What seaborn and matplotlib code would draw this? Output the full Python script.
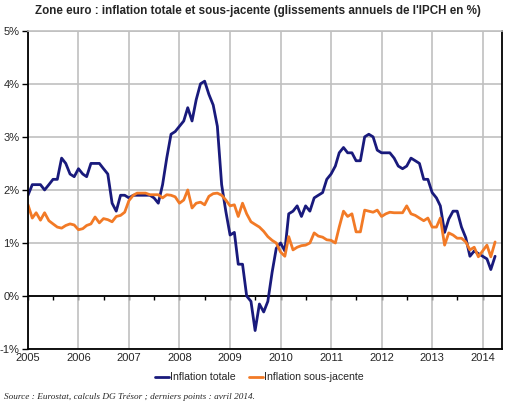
import pandas as pd
import matplotlib
matplotlib.use("Agg")
import matplotlib.pyplot as plt
import matplotlib.dates as mdates
import seaborn as sns

# glissements annuels de l'IPCH (%), mensuel, janv. 2005 -> avril 2014
totale = [
    1.9, 2.1, 2.1, 2.1, 2.0, 2.1, 2.2, 2.2, 2.6, 2.5, 2.3, 2.25,   # 2005
    2.4, 2.3, 2.25, 2.5, 2.5, 2.5, 2.4, 2.3, 1.75, 1.6, 1.9, 1.9,  # 2006
    1.85, 1.9, 1.9, 1.9, 1.9, 1.9, 1.85, 1.75, 2.1, 2.6, 3.05, 3.1,  # 2007
    3.2, 3.3, 3.55, 3.3, 3.7, 4.0, 4.05, 3.8, 3.6, 3.2, 2.1, 1.6,   # 2008
    1.15, 1.2, 0.6, 0.6, 0.0, -0.1, -0.65, -0.15, -0.3, -0.1, 0.45, 0.9,  # 2009
    1.0, 0.85, 1.55, 1.6, 1.7, 1.5, 1.7, 1.6, 1.85, 1.9, 1.95, 2.2,  # 2010
    2.3, 2.45, 2.7, 2.8, 2.7, 2.7, 2.55, 2.55, 3.0, 3.05, 3.0, 2.75,  # 2011
    2.7, 2.7, 2.7, 2.6, 2.45, 2.4, 2.45, 2.6, 2.55, 2.5, 2.2, 2.2,  # 2012
    1.95, 1.85, 1.7, 1.2, 1.45, 1.6, 1.6, 1.3, 1.1, 0.75, 0.85, 0.8,  # 2013
    0.75, 0.7, 0.5, 0.75,                                            # 2014
]
sous_jacente = [
    1.72, 1.47, 1.57, 1.43, 1.57, 1.42, 1.36, 1.3, 1.28, 1.33, 1.36, 1.34,  # 2005
    1.25, 1.27, 1.33, 1.36, 1.49, 1.38, 1.46, 1.44, 1.4, 1.5, 1.52, 1.58,  # 2006
    1.8, 1.9, 1.94, 1.94, 1.94, 1.91, 1.91, 1.91, 1.85, 1.91, 1.9, 1.87,  # 2007
    1.75, 1.81, 2.0, 1.66, 1.75, 1.77, 1.72, 1.88, 1.93, 1.94, 1.9, 1.81,  # 2008
    1.7, 1.72, 1.5, 1.75, 1.55, 1.4, 1.35, 1.3, 1.22, 1.12, 1.05, 1.0,  # 2009
    0.83, 0.75, 1.12, 0.87, 0.92, 0.95, 0.96, 1.0, 1.19, 1.13, 1.11, 1.06,  # 2010
    1.05, 1.0, 1.3, 1.6, 1.5, 1.55, 1.21, 1.21, 1.62, 1.6, 1.58, 1.62,  # 2011
    1.5, 1.55, 1.58, 1.57, 1.57, 1.57, 1.7, 1.55, 1.52, 1.47, 1.42, 1.47,  # 2012
    1.3, 1.3, 1.47, 0.96, 1.19, 1.15, 1.09, 1.09, 1.02, 0.87, 0.92, 0.74,  # 2013
    0.85, 0.96, 0.74, 1.02,                                          # 2014
]
series_names = ["Inflation totale", "Inflation sous-jacente"]
series_colors = ["#191a7c", "#f27a26"]
y_ticks = [-1, 0, 1, 2, 3, 4, 5]
title = "Zone euro : inflation totale et sous-jacente (glissements annuels de l'IPCH en %)"
source = "Source : Eurostat, calculs DG Trésor ; derniers points : avril 2014."

dates = pd.date_range("2005-01-01", periods=len(totale), freq="MS")
df = pd.DataFrame({"date": dates, series_names[0]: totale, series_names[1]: sous_jacente})
long_df = df.melt(id_vars="date", var_name="serie", value_name="valeur")

sns.set_theme(style="white")
plt.rcParams["font.family"] = ["Liberation Sans", "DejaVu Sans"]

fig = plt.figure(figsize=(5.09, 4.05), dpi=100)
ax = fig.add_axes([0.055, 0.138, 0.931, 0.786])

sns.lineplot(data=long_df, x="date", y="valeur", hue="serie", hue_order=series_names,
             palette=series_colors, linewidth=2.0, ax=ax)

ax.set_ylim(-1, 5)
ax.set_xlim(pd.Timestamp("2005-01-01"), pd.Timestamp("2014-05-20"))
ax.set_yticks(y_ticks)
ax.set_yticklabels([f"{v}%" for v in y_ticks], fontsize=8)
ax.xaxis.set_major_locator(mdates.YearLocator())
ax.xaxis.set_major_formatter(mdates.DateFormatter("%Y"))
ax.tick_params(axis="x", labelsize=8, length=0, pad=3)
ax.tick_params(axis="y", length=4, width=1, color="black", direction="out", pad=2, left=True)
ax.set_xlabel("")
ax.set_ylabel("")

ax.grid(True, color="#c0c0c0", linewidth=1.2)
ax.set_axisbelow(True)
for side in ["left", "right", "bottom"]:
    ax.spines[side].set_color("black")
    ax.spines[side].set_linewidth(1.3)
ax.spines["top"].set_color("#c0c0c0")
ax.spines["top"].set_linewidth(1.2)
ax.axhline(0, color="black", linewidth=1.3, zorder=1.5)

# petites graduations sur l'axe du zéro
zero_axis = ax.secondary_xaxis(1 / 6)
zero_axis.xaxis.set_major_locator(mdates.MonthLocator(bymonth=[1, 7]))
zero_axis.xaxis.set_ticks_position("bottom")
zero_axis.tick_params(axis="x", direction="out", length=3, width=1, color="black",
                      labelbottom=False, labeltop=False)
for s in zero_axis.spines.values():
    s.set_visible(False)

sns.move_legend(ax, "center", bbox_to_anchor=(0.51, 0.068), bbox_transform=fig.transFigure,
                ncol=2, frameon=False, title=None, fontsize=7.6, handlelength=1.3,
                handletextpad=0.1, columnspacing=1.3)

# titre : pas de police étroite installée, on ajuste la taille à la largeur de l'original
t = fig.text(0.507, 0.972, title, ha="center", va="center", fontsize=10, fontweight="bold",
             family=["Liberation Sans", "DejaVu Sans"])
renderer = fig.canvas.get_renderer()
w = t.get_window_extent(renderer).width
t.set_fontsize(10 * 443 / w)

fig.text(0.008, 0.02, source, ha="left", va="center", fontsize=6.7, style="italic",
         family=["Liberation Serif", "DejaVu Serif"])

fig.savefig("out.png", dpi=100)
